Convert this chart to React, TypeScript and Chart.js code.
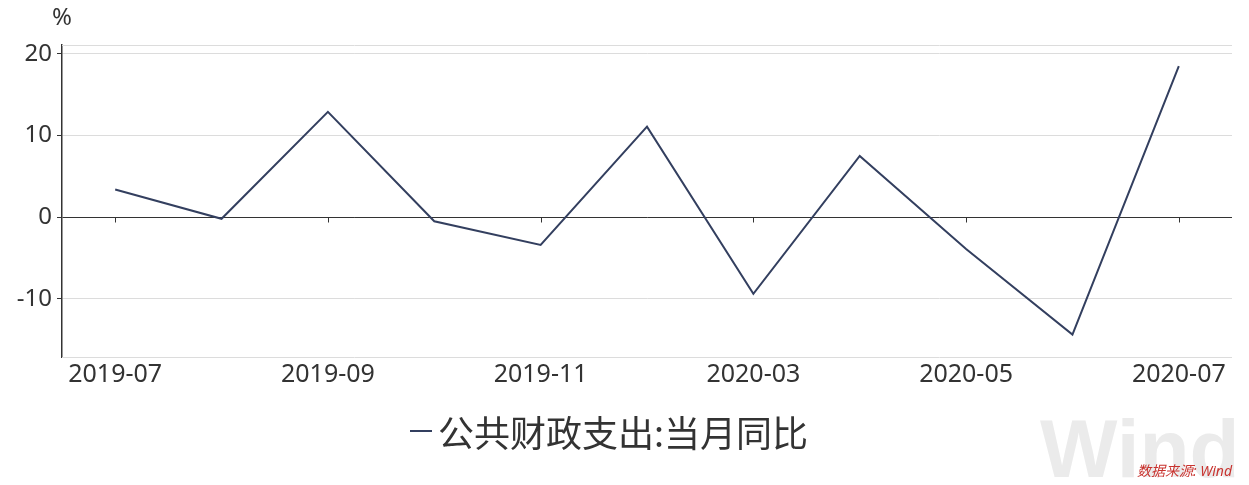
import React, { useEffect, useRef } from "react";
import { Chart, registerables } from "chart.js";

Chart.register(...registerables);

const categories = [
  "2019-07", "2019-08", "2019-09", "2019-10", "2019-11", "2019-12",
  "2020-03", "2020-04", "2020-05", "2020-06", "2020-07",
];
const values = [3.4, -0.2, 12.9, -0.5, -3.4, 11.1, -9.4, 7.5, -3.9, -14.4, 18.5];
const yTicks = [-10, 0, 10, 20];
const yMin = -17.14;
const yMax = 21.1;
const seriesName = "公共财政支出:当月同比";
const unitLabel = "%";
const sourceText = "数据来源: Wind";

const FONT = '"Noto Sans", "Noto Sans CJK SC", sans-serif';
const LINE_COLOR = "#333f5f";

const framePlugin = {
  id: "framePlugin",
  beforeDatasetsDraw(chart: any) {
    const { ctx, chartArea, scales } = chart;
    const x = scales.x;
    const y = scales.y;
    ctx.save();
    ctx.strokeStyle = "#dcdcdc";
    ctx.lineWidth = 1;
    ctx.beginPath();
    ctx.moveTo(chartArea.left, chartArea.top + 0.5);
    ctx.lineTo(chartArea.right, chartArea.top + 0.5);
    ctx.moveTo(chartArea.left, chartArea.bottom + 0.5);
    ctx.lineTo(chartArea.right, chartArea.bottom + 0.5);
    ctx.stroke();
    const y0 = Math.round(y.getPixelForValue(0)) + 0.5;
    ctx.strokeStyle = "#333333";
    ctx.beginPath();
    categories.forEach((_, i) => {
      if (i % 2 === 0) {
        const px = Math.round(x.getPixelForValue(i)) + 0.5;
        ctx.moveTo(px, y0);
        ctx.lineTo(px, y0 + 5);
      }
    });
    ctx.stroke();
    ctx.restore();
  },
};

export default function App() {
  const canvasRef = useRef<HTMLCanvasElement | null>(null);

  useEffect(() => {
    if (!canvasRef.current) return;
    const chart = new Chart(canvasRef.current, {
      type: "line",
      data: {
        labels: categories,
        datasets: [
          {
            label: seriesName,
            data: values,
            borderColor: LINE_COLOR,
            backgroundColor: LINE_COLOR,
            borderWidth: 2,
            pointRadius: 0,
            tension: 0,
            fill: false,
          },
        ],
      },
      options: {
        animation: false,
        responsive: false,
        devicePixelRatio: 1,
        layout: { padding: { left: 0, top: 45, right: 17, bottom: 0 } },
        plugins: {
          legend: { display: false },
          tooltip: { enabled: false },
        },
        scales: {
          x: {
            type: "category",
            offset: true,
            grid: { display: false, drawTicks: false },
            border: { display: false },
            afterFit: (scale: any) => {
              scale.height = 128;
            },
            ticks: {
              autoSkip: false,
              maxRotation: 0,
              minRotation: 0,
              padding: 3,
              color: "#333333",
              font: { family: FONT, size: 25 },
              callback: (_v: any, i: number) => (i % 2 === 0 ? categories[i] : ""),
            },
          },
          y: {
            type: "linear",
            min: yMin,
            max: yMax,
            afterBuildTicks: (scale: any) => {
              scale.ticks = yTicks.map((v) => ({ value: v }));
            },
            afterFit: (scale: any) => {
              scale.width = 62;
            },
            grid: {
              color: (c: any) => (c.tick && c.tick.value === 0 ? "#333333" : "#dcdcdc"),
              lineWidth: 1,
              drawTicks: true,
              tickLength: 5,
              tickColor: "#333333",
            },
            border: { display: true, color: "#333333", width: 1.5 },
            ticks: {
              padding: 5,
              color: "#333333",
              font: { family: FONT, size: 24 },
              callback: (v: any) => String(v),
            },
          },
        },
      },
      plugins: [framePlugin],
    });
    return () => chart.destroy();
  }, []);

  return (
    <div
      style={{
        position: "absolute",
        left: 0,
        top: 0,
        width: 1249,
        height: 485,
        background: "#ffffff",
        overflow: "hidden",
        fontFamily: FONT,
      }}
    >
      <div
        style={{
          position: "absolute",
          left: 1040,
          top: 408,
          fontFamily: '"Liberation Sans", Arial, sans-serif',
          fontWeight: 700,
          fontSize: 82,
          color: "#ebebeb",
          lineHeight: 1,
        }}
      >
        Wind
      </div>
      <canvas ref={canvasRef} width={1249} height={485} style={{ position: "absolute", left: 0, top: 0 }} />
      <div
        style={{
          position: "absolute",
          left: 52,
          top: 1,
          fontSize: 24,
          color: "#333333",
          lineHeight: "30px",
        }}
      >
        {unitLabel}
      </div>
      <div
        style={{
          position: "absolute",
          left: 410,
          top: 408,
          display: "flex",
          alignItems: "center",
          height: 46,
        }}
      >
        <span style={{ display: "inline-block", width: 22, height: 2, background: LINE_COLOR, marginRight: 6 }} />
        <span
          style={{
            fontFamily: '"Noto Sans CJK SC", "Noto Sans", sans-serif',
            fontSize: 36,
            color: "#333333",
            lineHeight: "46px",
            whiteSpace: "nowrap",
          }}
        >
          {seriesName}
        </span>
      </div>
      <div
        style={{
          position: "absolute",
          left: 1137,
          top: 462,
          fontSize: 14,
          fontStyle: "italic",
          color: "#c8332f",
          lineHeight: "18px",
          whiteSpace: "nowrap",
        }}
      >
        {sourceText}
      </div>
    </div>
  );
}
